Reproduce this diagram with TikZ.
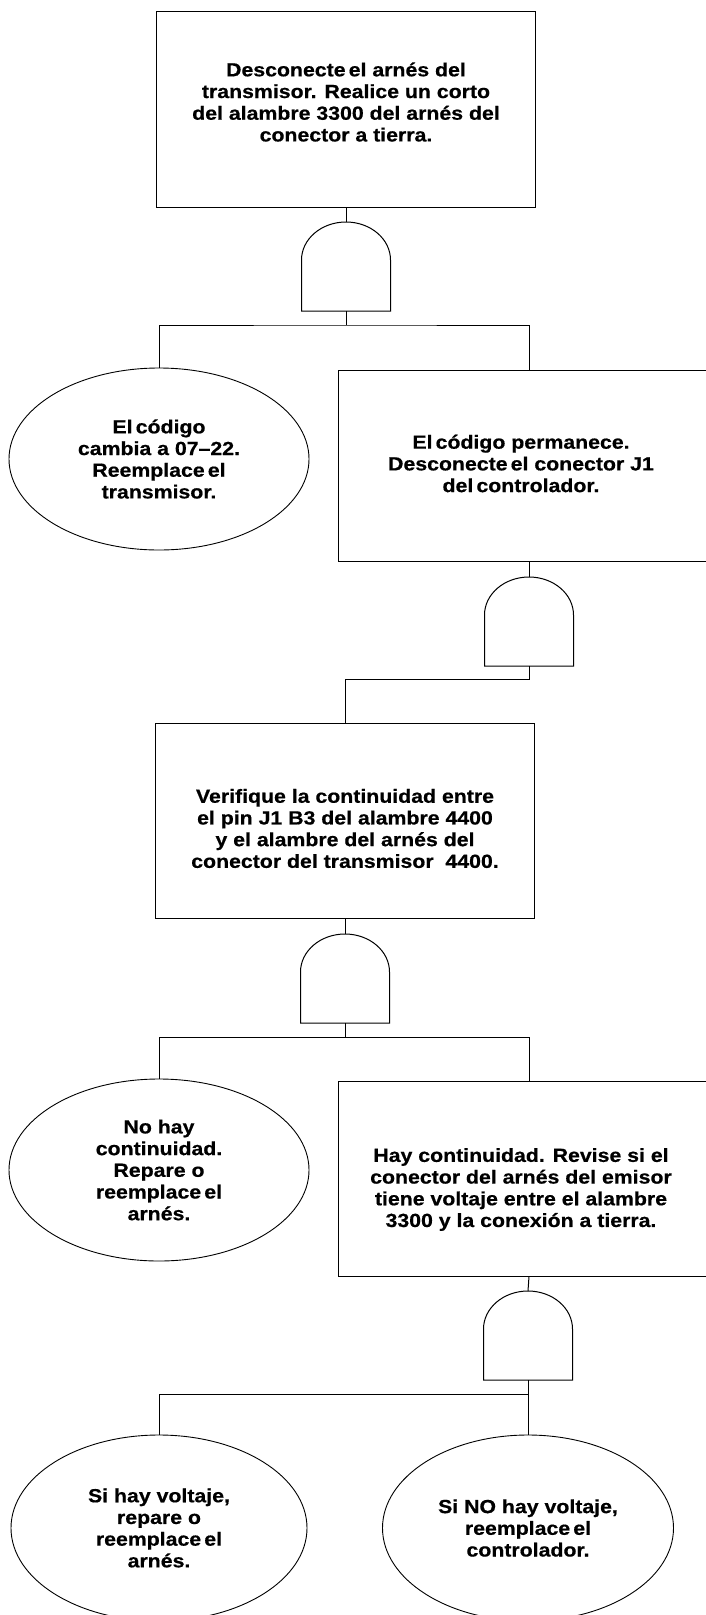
\documentclass[tikz,border=0pt]{standalone}
\usepackage{fontspec}
\setmainfont{Liberation Sans}[FakeStretch=1.12,BoldFeatures={FakeBold=0.6}]
\usetikzlibrary{shapes.geometric,calc}
\newcommand{\txtfont}{\fontsize{19pt}{21.7pt}\selectfont\bfseries}
\tikzset{linea/.style={line width=1pt},
  caja/.style={draw,line width=1pt,minimum width=379pt,minimum height=196pt,inner sep=0pt},
  elipse/.style={draw,ellipse,line width=0.9pt,inner sep=0pt,align=center,font=\txtfont},
  txt/.style={align=center,font=\txtfont,inner sep=0pt},
  compuerta/.pic={
    \draw[linea] (-44.5pt,0pt) -- (-44.5pt,51pt) arc[start angle=180,end angle=0,x radius=44.5pt,y radius=38pt]
      -- (44.5pt,0pt) -- cycle;
    \coordinate (-in) at (0pt,89pt);
    \coordinate (-out) at (0pt,0pt);}}

\begin{document}
\begin{tikzpicture}[x=1pt,y=-1pt]
\useasboundingbox (0,0) rectangle (705,1615);
% primera prueba
\node[caja] (c1) at (346,109) {};
\node[txt] (t1) at ($(c1.center)+(0,-7)$) {Desconecte\,el arnés del\\transmisor. Realice un corto\\del alambre 3300 del arnés del\\conector a tierra.};
\pic (g1) at (346,311) {compuerta};
\draw[linea] (c1.south) -- (g1-in);
\coordinate (n1) at ($(g1-out)+(0,14)$);
\draw[linea] (g1-out) -- (n1);
\node[elipse,minimum width=300pt,minimum height=182pt] (e1) at (159,459) {El\,código\\cambia a 07–22.\\Reemplace\,el\\transmisor.};
\node[caja,minimum width=382pt,minimum height=191pt] (c2) at (529,465.5) {};
\node[txt] (t2) at ($(c2.center)+(-8,-2)$) {El\,código permanece.\\Desconecte\,el conector J1\\del\,controlador.};
\draw[linea] (e1.north) |- (n1) -| (c2.north);
% conector J1
\pic (g2) at (529,666) {compuerta};
\draw[linea] (c2.south) -- (g2-in);
\node[caja,minimum height=195pt] (c3) at (345,820.5) {};
\node[txt] (t3) at ($(c3.center)+(0,8)$) {Verifique la continuidad entre\\el pin J1 B3 del alambre 4400\\y el alambre del arnés del\\conector del transmisor~~4400.};
\draw[linea] (g2-out) -- ++(0,13) -| (c3.north);
% continuidad
\pic (g3) at (345,1023) {compuerta};
\draw[linea] (c3.south) -- (g3-in);
\coordinate (n3) at ($(g3-out)+(0,14)$);
\draw[linea] (g3-out) -- (n3);
\node[elipse,minimum width=300pt,minimum height=182pt] (e4) at (159,1170) {No hay\\continuidad.\\Repare o\\reemplace\,el\\arnés.};
\node[caja,minimum width=382pt,minimum height=195pt] (c5) at (529,1178.5) {};
\node[txt] (t5) at ($(c5.center)+(-8,11)$) {Hay continuidad. Revise si el\\conector del arnés del emisor\\tiene voltaje entre el alambre\\3300 y la conexión a tierra.};
\draw[linea] (e4.north) |- (n3) -| (c5.north);
% voltaje
\pic (g5) at (528,1380) {compuerta};
\draw[linea] (c5.south) -- (g5-in);
\coordinate (n5) at ($(g5-out)+(0,14)$);
\draw[linea] (g5-out) -- (n5);
\node[elipse,minimum width=296pt,minimum height=186pt] (e6) at (159,1528) {Si hay voltaje,\\repare o\\reemplace\,el\\arnés.};
\node[elipse,minimum width=291pt,minimum height=186pt] (e7) at (528,1528) {Si NO hay voltaje,\\reemplace\,el\\controlador.};
\draw[linea] (e6.north) |- (n5) -| (e7.north);
\end{tikzpicture}
\end{document}
